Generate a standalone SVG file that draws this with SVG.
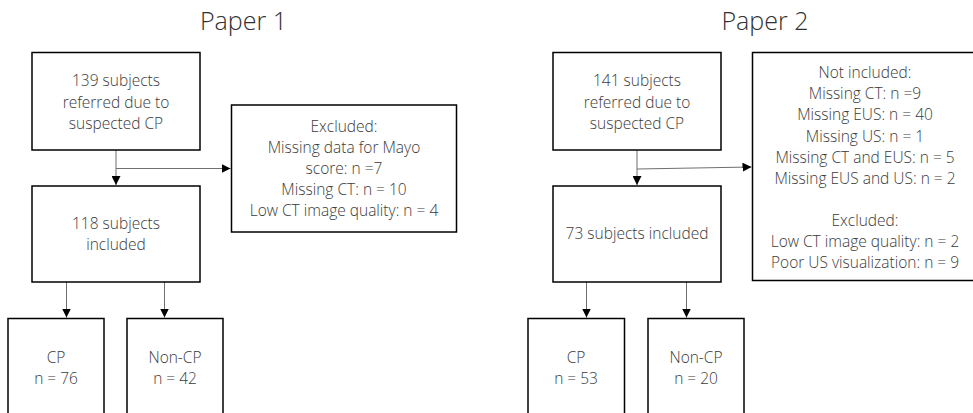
<svg xmlns="http://www.w3.org/2000/svg" width="973" height="413" viewBox="0 0 973 413">
<style>
.box{fill:#fff;stroke:#000;stroke-width:1.5}
.t{font-family:"Open Sans","Liberation Sans",sans-serif;font-weight:300;font-size:15.5px;fill:#3a3a3a;text-anchor:middle}
.title{font-family:"Open Sans","Liberation Sans",sans-serif;font-weight:300;font-size:25px;fill:#303030;text-anchor:middle}
.c{fill:none;stroke:#6f6f6f;stroke-width:1}
</style>
<defs>
<marker id="ah" viewBox="0 0 10 10" refX="10" refY="5" markerWidth="9" markerHeight="9" markerUnits="userSpaceOnUse" orient="auto">
<path d="M0,0 L10,5 L0,10 Z" fill="#000"/>
</marker>
</defs>
<rect width="973" height="413" fill="#fff"/>
<text class="title" x="243.5" y="30">Paper 1</text>
<text class="title" x="765" y="30">Paper 2</text>

<g id="connectors">
<path class="c" d="M116,150 V185" marker-end="url(#ah)"/>
<path class="c" d="M116,168.5 H230.5" marker-end="url(#ah)"/>
<path class="c" d="M66.5,282 V317.5" marker-end="url(#ah)"/>
<path class="c" d="M164.5,281 V317.5" marker-end="url(#ah)"/>
<path class="c" d="M637,150 V185" marker-end="url(#ah)"/>
<path class="c" d="M637,169 L751.5,167" marker-end="url(#ah)"/>
<path class="c" d="M586.5,282 V317.5" marker-end="url(#ah)"/>
<path class="c" d="M686.5,282 V317.5" marker-end="url(#ah)"/>
</g>

<g id="p1-referred">
<rect class="box" x="32" y="52.5" width="168" height="97.5"/>
<text class="t" x="116" y="86">139 subjects</text>
<text class="t" x="116" y="107.5">referred due to</text>
<text class="t" x="116" y="128.5">suspected CP</text>
</g>
<g id="p1-excluded">
<rect class="box" x="231.5" y="105" width="225" height="127"/>
<text class="t" x="344" y="131.5">Excluded:</text>
<text class="t" x="344" y="152.5">Missing data for Mayo</text>
<text class="t" x="344" y="174">score: n =7</text>
<text class="t" x="344" y="195">Missing CT: n = 10</text>
<text class="t" x="344" y="216">Low CT image quality: n = 4</text>
</g>
<g id="p1-included">
<rect class="box" x="32" y="186" width="168" height="96"/>
<text class="t" x="116" y="228.5">118 subjects</text>
<text class="t" x="116" y="250">included</text>
</g>
<g id="p1-cp">
<rect class="box" x="8" y="318.5" width="96" height="110"/>
<text class="t" x="56" y="362.5">CP</text>
<text class="t" x="56" y="384">n = 76</text>
</g>
<g id="p1-noncp">
<rect class="box" x="127" y="318.5" width="96" height="110"/>
<text class="t" x="175" y="362.5">Non-CP</text>
<text class="t" x="175" y="384">n = 42</text>
</g>

<g id="p2-referred">
<rect class="box" x="553" y="52.5" width="168" height="97.5"/>
<text class="t" x="637" y="86">141 subjects</text>
<text class="t" x="637" y="107.5">referred due to</text>
<text class="t" x="637" y="128.5">suspected CP</text>
</g>
<g id="p2-notincluded">
<rect class="box" x="752.5" y="52.5" width="230" height="228"/>
<text class="t" x="865" y="77.5">Not included:</text>
<text class="t" x="865" y="99">Missing CT: n =9</text>
<text class="t" x="865" y="120">Missing EUS: n = 40</text>
<text class="t" x="865" y="141.5">Missing US: n = 1</text>
<text class="t" x="865" y="162.5">Missing CT and EUS: n = 5</text>
<text class="t" x="865" y="183.5">Missing EUS and US: n = 2</text>
<text class="t" x="865" y="226">Excluded:</text>
<text class="t" x="865" y="247">Low CT image quality: n = 2</text>
<text class="t" x="865" y="268">Poor US visualization: n = 9</text>
</g>
<g id="p2-included">
<rect class="box" x="553" y="186" width="168" height="96"/>
<text class="t" x="637" y="239">73 subjects included</text>
</g>
<g id="p2-cp">
<rect class="box" x="528" y="318.5" width="96.5" height="110"/>
<text class="t" x="576" y="362.5">CP</text>
<text class="t" x="576" y="384">n = 53</text>
</g>
<g id="p2-noncp">
<rect class="box" x="648" y="318.5" width="96" height="110"/>
<text class="t" x="696" y="362.5">Non-CP</text>
<text class="t" x="696" y="384">n = 20</text>
</g>
</svg>
